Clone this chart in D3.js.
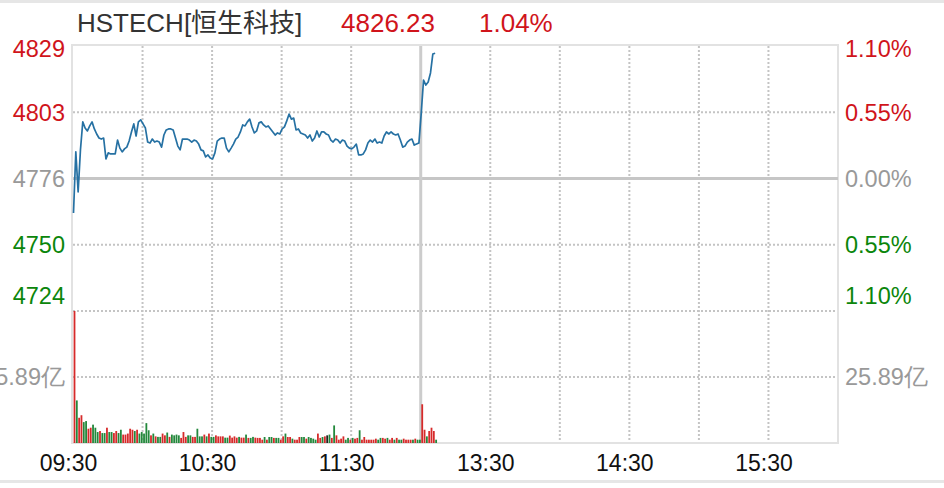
<!DOCTYPE html>
<html><head><meta charset="utf-8">
<script src="https://cdn.jsdelivr.net/npm/d3@7/dist/d3.min.js"></script>
<style>
html,body{margin:0;padding:0;background:#fff;}
svg{display:block;font-family:"Liberation Sans",Arial,"Noto Sans CJK SC",sans-serif;}
</style></head>
<body><svg id="c" width="944" height="488"></svg>
<script>
const title = "HSTECH[恒生科技]";
const lastPrice = "4826.23";
const lastPct = "1.04%";
const preClose = 4776.55;
const pctTicks = [1.10, 0.55, 0, -0.55, -1.10];
const priceTickLabels = ["4829", "4803", "4776", "4750", "4724"];
const pctTickLabels = ["1.10%", "0.55%", "0.00%", "0.55%", "1.10%"];
const volTickLabel = "25.89亿";
const volMax = 51.78;
const volTick = 25.89;
const timeTicks = [0, 60, 120, 180, 240, 300];
const timeLabels = ["09:30", "10:30", "11:30", "13:30", "14:30", "15:30"];
const gridMinutes = [30, 60, 90, 120, 180, 210, 240, 270, 300];
const breakMinute = 150;
const totalMinutes = 330;

// price per trading minute (index 0 = 09:30)
const prices = [
4762.9,4787.1,4771.2,4787.9,4799.0,4796.6,4795.4,4797.4,4799.0,4796.2,
4794.2,4792.6,4792.2,4792.6,4784.3,4786.7,4786.3,4786.3,4786.3,4791.8,
4788.6,4787.1,4788.3,4789.0,4791.4,4795.0,4798.2,4793.4,4799.0,4799.8,
4798.2,4796.6,4791.0,4790.6,4792.2,4791.0,4791.4,4791.0,4789.0,4793.8,
4795.8,4796.2,4796.2,4795.8,4792.6,4789.4,4787.9,4792.2,4792.2,4792.2,
4791.8,4791.0,4791.8,4791.4,4790.2,4787.9,4787.5,4785.1,4785.9,4784.7,
4784.3,4786.7,4791.4,4792.2,4792.6,4792.6,4788.6,4787.1,4788.6,4790.2,
4792.2,4793.0,4795.0,4797.8,4797.4,4799.0,4800.1,4797.0,4794.6,4795.4,
4798.6,4799.0,4797.8,4797.0,4797.4,4796.2,4795.0,4793.8,4794.6,4794.2,
4796.2,4797.0,4799.4,4802.1,4800.1,4800.5,4795.8,4796.2,4794.6,4794.2,
4793.8,4792.6,4793.8,4791.4,4792.6,4795.4,4793.0,4795.0,4795.0,4794.2,
4793.8,4791.8,4791.0,4792.2,4791.8,4790.6,4791.8,4791.4,4789.4,4788.6,
4788.3,4789.0,4790.2,4785.9,4785.9,4786.3,4787.9,4790.6,4791.8,4791.0,
4792.2,4790.6,4791.0,4790.6,4793.4,4795.0,4794.2,4795.0,4794.2,4793.8,
4794.2,4791.8,4789.0,4789.4,4791.0,4791.8,4792.2,4789.8,4790.2,4790.6,
4802.5,4815.6,4813.6,4814.8,4818.4,4825.9,4826.23
];

// volume per minute (亿) and direction: 1 up (red), -1 down (green), 0 flat
const volumes = [
51.78,16.7,9.9,10.9,8.2,8.6,5.6,6.0,7.2,6.0,
4.3,4.7,3.9,3.9,6.0,4.3,4.3,3.9,4.7,3.9,
5.2,3.3,3.3,3.7,5.6,5.2,4.7,5.2,3.7,4.3,
3.7,7.8,5.0,3.0,3.7,2.6,2.4,2.4,3.7,3.0,
4.1,2.4,3.3,3.0,3.3,3.0,2.0,4.3,2.4,3.0,
3.0,2.4,2.4,5.6,2.6,2.6,3.3,2.6,3.7,2.4,
2.4,3.0,2.6,2.6,2.6,2.1,2.1,2.9,2.1,2.6,
2.1,2.4,2.1,2.1,3.3,2.0,2.0,2.4,2.1,2.0,
2.0,1.3,2.35,1.3,2.35,2.35,2.0,2.0,2.0,1.3,
2.6,3.7,2.35,2.35,1.7,1.3,1.3,2.35,2.35,2.35,
1.7,2.35,2.0,1.7,1.3,3.7,2.0,2.35,2.6,3.0,
3.3,2.0,6.9,3.0,1.3,1.7,2.6,1.3,2.0,1.3,
2.0,1.7,2.0,5.0,1.3,2.35,1.3,1.3,1.3,1.3,
1.7,1.3,2.0,2.0,1.7,2.0,1.3,2.0,1.3,2.0,
1.3,1.3,1.7,1.3,1.3,1.3,1.3,1.7,1.3,1.3,
15.2,5.2,2.6,4.7,6.0,4.7,1.3
];
const directions = [
1,-1,1,1,-1,-1,1,1,-1,-1,
-1,1,-1,-1,1,-1,-1,1,1,-1,
-1,1,1,1,1,1,-1,1,-1,-1,
-1,-1,-1,1,-1,1,-1,-1,1,1,
-1,1,-1,-1,-1,-1,1,1,1,-1,
-1,1,1,-1,-1,-1,1,-1,1,-1,
-1,1,1,1,1,-1,-1,1,1,1,
1,-1,1,1,-1,1,-1,-1,1,1,
1,1,-1,1,-1,-1,1,-1,-1,1,
1,-1,1,1,-1,1,1,1,-1,-1,
1,-1,-1,-1,-1,1,1,-1,1,0,
-1,1,-1,1,1,1,1,-1,-1,1,
-1,1,1,-1,1,1,1,1,1,1,
1,-1,-1,1,1,-1,1,1,-1,1,
-1,-1,1,1,1,1,-1,1,-1,-1,
1,1,-1,1,1,1,-1
];

const RED = "#d0141b", GREEN = "#0b860b", GRAY = "#999999";
const BAR_RED = "#d62a2a", BAR_GREEN = "#23883c";
const GRID = "#c4c4c4", FRAME = "#e2e2e2";

const L = 73, R = 838, T = 46, MID = 311, B = 443;
const svg = d3.select("#c");

const x = d3.scaleLinear().domain([0, totalMinutes]).range([L, R]);
const y = d3.scaleLinear().domain([-1.10, 1.10]).range([MID, T]);
const yv = d3.scaleLinear().domain([0, volMax]).range([B, MID]);
const pct = p => (p / preClose - 1) * 100;

// page lines
svg.append("rect").attr("x", 0).attr("y", 0).attr("width", 944).attr("height", 3).attr("fill", "#e6e6e6");
svg.append("rect").attr("x", 0).attr("y", 480).attr("width", 944).attr("height", 3).attr("fill", "#e6e6e6");

// dotted grid
const dotted = (x1, y1, x2, y2) => svg.append("line").attr("x1", x1).attr("y1", y1).attr("x2", x2).attr("y2", y2)
  .attr("stroke", GRID).attr("stroke-width", 2).attr("stroke-dasharray", "2,2");
[0.55, -0.55].forEach(v => dotted(L, y(v), R, y(v)));
dotted(L, MID, R, MID);
dotted(L, yv(volTick), R, yv(volTick));
gridMinutes.forEach(m => dotted(x(m), T, x(m), B));

// frame
svg.append("rect").attr("x", L - 1).attr("y", T - 1).attr("width", R - L + 1).attr("height", B - T + 1)
  .attr("fill", "none").attr("stroke", FRAME).attr("stroke-width", 2);

// zero line & break line
svg.append("line").attr("x1", L).attr("x2", R).attr("y1", y(0)).attr("y2", y(0)).attr("stroke", "#c6c6c6").attr("stroke-width", 3);
svg.append("line").attr("x1", x(breakMinute)).attr("x2", x(breakMinute)).attr("y1", T).attr("y2", B).attr("stroke", "#cccccc").attr("stroke-width", 3);

// volume bars
svg.append("g").selectAll("rect").data(volumes).join("rect")
  .attr("x", (d, i) => x(i) + 0.6)
  .attr("width", 1.8)
  .attr("y", d => yv(d))
  .attr("height", d => B - yv(d))
  .attr("fill", (d, i) => directions[i] > 0 ? BAR_RED : directions[i] < 0 ? BAR_GREEN : "#222");

// price line
svg.append("path").datum(prices)
  .attr("fill", "none").attr("stroke", "#2671a3").attr("stroke-width", 1.7).attr("stroke-linejoin", "round")
  .attr("d", d3.line().x((d, i) => x(i) + 0.5).y(d => y(pct(d))));

// axes
const colorFor = v => v > 0 ? RED : v < 0 ? GREEN : GRAY;
const dyFor = d => d === 1.10 ? "0.45em" : d === -1.10 ? "-0.3em" : "0.35em";
const AX_FS = 23.5;
const leftAxis = svg.append("g").attr("transform", `translate(${L - 8},0)`)
  .call(d3.axisLeft(y).tickValues(pctTicks).tickSize(0).tickPadding(0).tickFormat((d, i) => priceTickLabels[i]));
leftAxis.select(".domain").remove();
leftAxis.selectAll("text").attr("fill", d => colorFor(d)).attr("font-size", AX_FS).attr("font-family", null).attr("dy", dyFor);

const rightAxis = svg.append("g").attr("transform", `translate(${R + 7},0)`)
  .call(d3.axisRight(y).tickValues(pctTicks).tickSize(0).tickPadding(0).tickFormat((d, i) => pctTickLabels[i]));
rightAxis.select(".domain").remove();
rightAxis.selectAll("text").attr("fill", d => colorFor(d)).attr("font-size", AX_FS).attr("font-family", null).attr("dy", dyFor);

// volume axis labels
const lv = svg.append("g").attr("transform", `translate(${L - 8},0)`)
  .call(d3.axisLeft(yv).tickValues([volTick]).tickSize(0).tickPadding(0).tickFormat(() => volTickLabel));
lv.select(".domain").remove();
lv.selectAll("text").attr("fill", GRAY).attr("font-size", AX_FS).attr("font-family", null);
const rv = svg.append("g").attr("transform", `translate(${R + 7},0)`)
  .call(d3.axisRight(yv).tickValues([volTick]).tickSize(0).tickPadding(0).tickFormat(() => volTickLabel));
rv.select(".domain").remove();
rv.selectAll("text").attr("fill", GRAY).attr("font-size", AX_FS).attr("font-family", null);

// time axis
const tx = svg.append("g").attr("transform", `translate(-5,${B + 10})`)
  .call(d3.axisBottom(x).tickValues(timeTicks).tickSize(0).tickPadding(0).tickFormat((d, i) => timeLabels[i]));
tx.select(".domain").remove();
tx.selectAll("text").attr("fill", "#111").attr("font-size", 23).attr("font-family", null).attr("dy", "0.8em");

// header
const hdr = svg.append("g").attr("font-size", 26);
hdr.append("text").attr("x", 77).attr("y", 32).attr("fill", "#333").text(title);
hdr.append("text").attr("x", 341).attr("y", 32).attr("fill", RED).text(lastPrice);
hdr.append("text").attr("x", 479).attr("y", 32).attr("fill", RED).text(lastPct);
</script></body></html>
